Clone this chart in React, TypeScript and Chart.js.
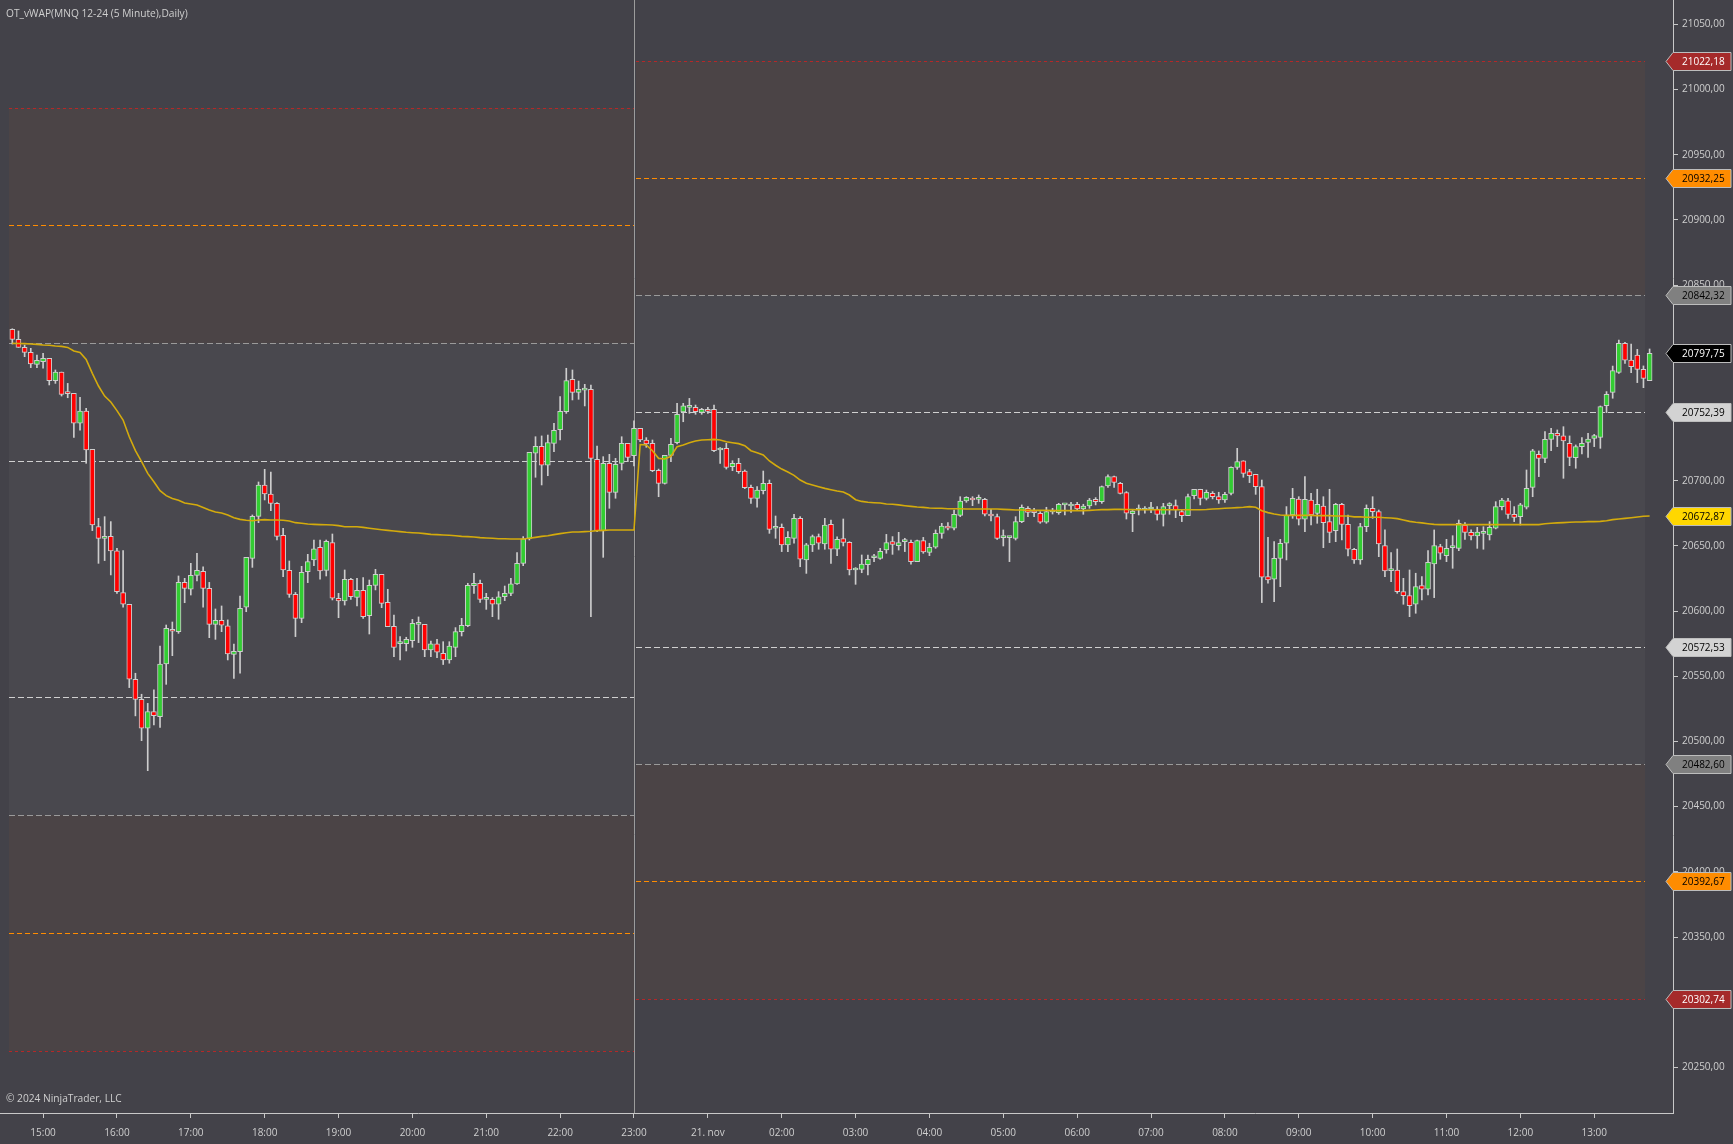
import React, { useEffect, useRef } from 'react';
import { Chart, registerables } from 'chart.js';
Chart.register(...registerables);

const W = 1733;
const H = 1144;

const open = [
20816.0,20808.4,20802.2,20798.4,20789.2,20791.3,20793.8,20776.7,20783.3,20766.9,
20766.9,20744.0,20753.4,20724.0,20664.7,20655.8,20657.3,20646.1,20614.1,20605.2,
20547.7,20532.3,20510.1,20522.9,20519.0,20559.4,20586.0,20584.2,20622.0,20616.7,
20627.4,20630.5,20617.4,20589.8,20592.9,20588.6,20566.8,20568.9,20602.9,20640.4,
20672.6,20696.7,20689.8,20682.6,20658.1,20631.2,20612.8,20594.4,20630.2,20639.2,
20648.9,20631.2,20652.5,20609.8,20607.7,20624.3,20610.5,20615.9,20596.5,20619.7,
20628.2,20606.7,20588.3,20575.0,20575.0,20577.3,20589.8,20589.8,20570.2,20574.8,
20567.6,20562.5,20572.2,20584.2,20588.8,20619.5,20621.3,20609.0,20609.0,20605.2,
20611.0,20613.6,20620.8,20636.6,20655.8,20721.0,20726.3,20711.8,20728.6,20739.1,
20752.9,20777.7,20767.7,20769.5,20770.0,20716.4,20661.4,20713.3,20691.0,20713.3,
20728.6,20719.2,20740.1,20731.2,20728.6,20707.9,20697.9,20719.4,20729.1,20752.7,
20756.2,20756.2,20752.4,20754.7,20754.7,20723.5,20724.8,20710.7,20713.3,20707.4,
20694.9,20686.4,20692.3,20697.9,20663.5,20664.2,20650.7,20655.8,20671.1,20639.2,
20650.7,20657.1,20651.4,20666.5,20647.4,20655.5,20652.7,20631.5,20632.0,20635.6,
20640.9,20640.4,20646.8,20653.2,20650.2,20653.2,20652.7,20637.9,20654.0,20645.0,
20648.9,20659.6,20665.2,20663.5,20673.4,20684.4,20686.4,20685.7,20685.7,20674.2,
20672.4,20656.3,20656.3,20655.8,20668.6,20678.8,20675.5,20675.0,20668.1,20676.0,
20675.5,20681.4,20680.6,20681.9,20678.3,20680.6,20685.7,20683.9,20695.9,20703.1,
20697.9,20690.8,20674.7,20677.5,20677.5,20678.3,20678.3,20674.2,20680.8,20680.8,
20676.2,20673.2,20688.5,20693.4,20686.4,20690.3,20687.7,20685.2,20690.3,20710.2,
20715.3,20706.9,20704.9,20695.4,20626.4,20624.4,20640.4,20652.0,20673.7,20685.9,
20670.4,20685.2,20674.9,20680.6,20668.6,20661.7,20681.9,20666.5,20647.4,20639.2,
20664.7,20678.8,20676.2,20650.2,20631.0,20631.5,20614.9,20611.8,20605.2,20619.5,
20616.7,20636.1,20649.4,20642.5,20648.6,20648.1,20666.0,20660.4,20657.6,20659.6,
20658.4,20663.5,20680.1,20684.6,20674.2,20672.4,20679.6,20694.9,20720.2,20717.1,
20731.7,20736.3,20734.3,20728.6,20717.6,20726.1,20729.4,20732.4,20733.2,20757.5,
20767.7,20783.1,20805.3,20792.5,20796.4,20785.4,20776.7
];

const high = [
20816.5,20814.8,20804.0,20801.5,20796.4,20797.6,20793.8,20784.9,20783.3,20774.6,
20766.9,20763.9,20755.5,20724.0,20671.1,20672.4,20668.6,20648.1,20646.3,20605.2,
20552.3,20536.2,20529.2,20539.5,20573.2,20589.3,20591.6,20626.9,20625.1,20636.6,
20644.3,20634.0,20622.0,20601.6,20603.9,20593.2,20574.7,20611.5,20641.2,20673.7,
20699.0,20708.7,20706.6,20683.1,20663.4,20638.4,20614.3,20634.3,20643.5,20654.5,
20654.5,20654.5,20659.1,20613.6,20631.5,20625.1,20625.1,20625.6,20623.8,20632.0,
20628.2,20616.7,20597.0,20580.4,20579.9,20593.6,20595.5,20589.8,20577.0,20578.3,
20576.5,20576.5,20587.3,20594.4,20621.3,20628.9,20623.8,20613.6,20610.3,20614.9,
20619.2,20625.1,20644.8,20657.1,20721.7,20733.7,20734.3,20735.0,20744.0,20764.4,
20786.2,20784.9,20776.4,20773.9,20773.4,20726.6,20718.4,20720.2,20717.1,20733.7,
20728.6,20745.8,20740.1,20733.0,20731.2,20708.9,20719.4,20732.5,20759.3,20759.3,
20763.1,20758.0,20755.5,20756.2,20758.0,20725.3,20728.6,20715.3,20717.1,20708.2,
20696.7,20695.4,20707.4,20700.5,20672.9,20666.8,20660.9,20674.2,20672.4,20651.9,
20658.3,20659.1,20671.1,20669.8,20657.0,20670.6,20653.2,20633.3,20643.0,20643.0,
20643.5,20648.1,20658.8,20657.1,20660.4,20655.8,20654.5,20654.5,20656.5,20652.0,
20662.2,20667.3,20667.8,20677.5,20687.7,20687.7,20687.7,20689.0,20686.4,20678.0,
20674.4,20662.2,20657.1,20672.4,20681.4,20680.1,20678.8,20676.2,20679.6,20678.8,
20682.6,20682.1,20683.4,20683.4,20681.9,20686.4,20687.0,20695.9,20704.4,20703.6,
20698.7,20691.6,20677.5,20681.4,20680.1,20683.4,20680.1,20682.6,20683.1,20685.2,
20677.5,20689.8,20693.4,20693.4,20692.8,20691.6,20691.1,20691.1,20710.7,20724.8,
20715.3,20708.7,20704.9,20700.5,20656.5,20653.2,20655.0,20680.1,20694.1,20687.7,
20703.1,20690.3,20693.4,20687.7,20693.4,20682.6,20682.6,20673.7,20648.1,20667.3,
20681.4,20687.7,20677.5,20662.2,20644.8,20647.6,20625.1,20631.5,20629.0,20626.4,
20646.3,20662.2,20651.2,20655.0,20657.8,20669.8,20667.8,20662.2,20664.2,20664.7,
20668.6,20683.9,20686.4,20686.4,20680.1,20682.6,20708.2,20724.0,20722.8,20737.6,
20740.1,20738.9,20741.4,20734.3,20727.4,20733.0,20736.3,20735.5,20757.3,20768.3,
20787.9,20807.9,20806.1,20804.8,20800.7,20788.0,20801.0
];

const low = [
20804.8,20802.2,20795.1,20786.7,20786.7,20786.2,20773.4,20774.6,20764.9,20763.6,
20733.2,20738.8,20713.3,20661.7,20636.6,20638.7,20627.7,20613.6,20602.9,20541.3,
20519.6,20500.6,20477.6,20512.6,20510.8,20543.8,20565.8,20582.9,20606.4,20612.3,
20623.1,20602.9,20579.6,20578.3,20584.2,20562.5,20548.4,20552.3,20599.5,20633.5,
20667.8,20685.2,20677.0,20654.5,20626.4,20610.5,20580.4,20591.1,20621.8,20634.8,
20624.4,20626.9,20608.5,20594.9,20604.6,20609.0,20603.9,20594.4,20582.4,20616.2,
20602.6,20588.0,20565.0,20562.5,20569.4,20572.2,20575.8,20565.0,20565.0,20564.3,
20559.0,20560.0,20565.0,20580.9,20588.0,20613.6,20606.7,20601.3,20595.7,20593.7,
20608.0,20611.8,20620.5,20634.8,20654.5,20702.6,20696.7,20703.8,20722.2,20731.2,
20751.6,20761.9,20762.4,20757.3,20595.7,20660.9,20641.2,20678.8,20686.5,20708.2,
20714.6,20711.3,20729.9,20725.6,20706.9,20687.7,20697.4,20714.6,20728.1,20745.2,
20751.6,20750.9,20750.9,20751.6,20722.2,20713.3,20708.9,20707.7,20705.6,20693.9,
20682.6,20679.6,20689.8,20659.6,20655.8,20645.6,20645.6,20652.0,20634.0,20628.9,
20645.6,20647.4,20647.4,20636.6,20642.5,20649.9,20627.7,20620.5,20629.4,20627.7,
20637.9,20639.7,20644.3,20643.5,20646.8,20645.6,20635.9,20637.9,20644.3,20642.5,
20648.1,20655.8,20662.2,20662.2,20672.4,20683.4,20680.8,20682.6,20672.9,20669.1,
20655.0,20649.9,20637.9,20654.5,20667.8,20672.4,20672.4,20667.3,20667.3,20674.4,
20674.2,20673.7,20675.7,20677.0,20674.2,20678.8,20681.4,20682.6,20694.9,20694.9,
20689.8,20670.6,20660.9,20673.7,20675.0,20675.5,20669.8,20665.2,20674.2,20671.6,
20668.6,20673.2,20686.0,20681.4,20685.2,20686.0,20682.6,20683.4,20689.0,20708.7,
20702.6,20698.5,20689.5,20606.5,20621.3,20607.2,20618.7,20639.2,20671.1,20666.0,
20660.9,20666.0,20667.3,20648.6,20652.5,20653.2,20654.5,20642.2,20636.6,20635.9,
20660.9,20671.1,20641.7,20626.4,20622.5,20613.6,20605.2,20595.7,20598.3,20608.5,
20612.3,20610.3,20639.7,20637.9,20632.8,20646.3,20655.0,20654.5,20648.1,20647.4,
20654.5,20663.0,20677.5,20671.1,20668.6,20666.0,20678.3,20687.7,20703.1,20713.8,
20723.0,20726.1,20701.8,20711.5,20709.5,20720.5,20717.9,20726.1,20724.8,20752.2,
20763.2,20782.3,20790.0,20782.8,20775.2,20771.3,20776.7
];

const close = [
20808.4,20802.2,20798.4,20789.5,20792.3,20793.8,20776.7,20783.3,20766.2,20766.7,
20744.0,20753.4,20723.5,20666.0,20655.8,20657.1,20646.1,20614.9,20605.2,20547.7,
20532.3,20510.1,20522.9,20519.8,20559.4,20586.8,20584.5,20622.0,20617.4,20627.4,
20631.2,20617.4,20589.8,20592.9,20589.1,20567.1,20569.1,20602.1,20641.2,20672.6,
20696.7,20689.8,20682.6,20657.3,20631.5,20612.8,20594.4,20629.7,20637.9,20647.8,
20630.7,20653.5,20609.8,20607.7,20624.3,20611.0,20615.9,20595.7,20619.7,20628.2,
20605.9,20588.0,20572.2,20575.2,20578.3,20590.6,20590.0,20570.2,20574.8,20568.4,
20562.5,20573.2,20584.2,20589.1,20619.7,20621.3,20609.0,20609.2,20605.2,20611.0,
20613.6,20620.8,20636.6,20655.3,20721.7,20726.3,20711.8,20729.2,20738.6,20753.2,
20776.7,20767.7,20770.0,20769.6,20717.1,20661.7,20713.3,20691.0,20712.5,20728.6,
20717.9,20740.1,20731.2,20728.1,20707.7,20697.9,20719.4,20727.9,20750.9,20757.3,
20756.3,20752.9,20754.7,20753.2,20723.0,20723.6,20710.2,20713.3,20706.9,20694.6,
20686.4,20692.8,20697.9,20662.7,20663.6,20650.7,20656.5,20671.1,20639.7,20650.7,
20657.1,20652.0,20666.0,20647.4,20655.0,20652.7,20631.5,20631.6,20636.1,20639.7,
20641.0,20645.8,20652.5,20651.2,20652.5,20653.3,20637.9,20654.0,20645.3,20648.9,
20659.6,20665.2,20663.5,20674.2,20684.4,20687.2,20685.2,20685.8,20674.4,20672.9,
20655.8,20656.4,20656.4,20668.6,20679.6,20675.7,20675.4,20668.1,20676.2,20676.1,
20681.9,20681.5,20680.7,20678.3,20680.6,20685.2,20683.9,20695.4,20703.1,20698.7,
20690.3,20675.0,20676.7,20677.6,20677.6,20678.4,20674.2,20680.1,20680.9,20677.5,
20673.2,20687.7,20693.4,20686.4,20691.1,20687.7,20685.2,20689.5,20710.2,20714.6,
20705.6,20703.8,20695.4,20625.9,20623.8,20640.4,20652.0,20673.7,20686.4,20670.4,
20685.7,20673.7,20681.9,20667.8,20660.4,20681.9,20666.5,20647.4,20639.2,20664.7,
20678.8,20676.2,20651.5,20630.7,20631.1,20614.9,20611.8,20604.2,20618.7,20616.7,
20637.4,20650.2,20644.3,20648.1,20648.7,20667.3,20660.4,20657.6,20660.6,20659.7,
20664.2,20680.1,20685.2,20674.2,20671.9,20681.4,20694.1,20722.8,20717.1,20731.7,
20736.3,20734.3,20730.4,20717.9,20726.1,20728.6,20731.9,20734.5,20756.8,20766.2,
20784.4,20805.3,20792.5,20787.4,20785.4,20778.5,20797.75
];

const vwap = [
20805.3,20805.2,20805.1,20804.8,20804.5,20804.0,20803.8,20803.3,20803.0,20802.2,
20799.4,20798.4,20793.0,20782.3,20772.6,20764.9,20760.3,20753.7,20746.5,20733.7,
20723.0,20714.6,20705.6,20699.2,20692.3,20688.5,20686.4,20684.9,20682.9,20682.1,
20681.3,20679.5,20677.5,20676.0,20675.2,20673.7,20671.6,20670.3,20669.6,20669.3,
20669.8,20670.1,20669.8,20669.8,20669.6,20669.1,20667.8,20667.3,20666.8,20666.5,
20666.3,20666.2,20666.0,20665.5,20664.7,20664.7,20664.6,20664.2,20663.5,20662.9,
20662.4,20661.9,20661.4,20660.9,20660.4,20660.1,20659.9,20659.4,20658.8,20658.6,
20658.3,20658.1,20657.8,20657.3,20657.1,20656.8,20656.3,20656.0,20655.8,20655.5,
20655.5,20655.3,20655.3,20655.3,20655.8,20656.5,20657.3,20657.8,20658.6,20659.4,
20660.1,20660.6,20660.6,20660.9,20661.2,20661.7,20661.9,20662.2,20662.2,20662.2,
20662.2,20662.2,20727.7,20727.4,20723.0,20717.1,20716.6,20718.7,20726.1,20727.4,
20729.1,20730.4,20731.2,20731.4,20731.7,20731.2,20729.9,20729.1,20728.4,20726.8,
20723.0,20721.5,20719.7,20715.1,20711.8,20708.9,20706.6,20704.1,20700.5,20698.0,
20696.7,20695.4,20694.1,20693.1,20692.1,20691.3,20689.0,20685.4,20684.1,20683.4,
20683.1,20682.9,20682.1,20681.9,20681.4,20680.8,20680.3,20679.8,20679.5,20679.0,
20678.8,20678.8,20678.5,20678.5,20678.5,20678.3,20678.3,20678.3,20678.3,20678.3,
20678.3,20678.0,20677.8,20677.5,20677.5,20677.2,20677.2,20677.2,20677.2,20677.0,
20677.0,20677.0,20677.0,20677.0,20677.0,20677.2,20677.5,20677.8,20677.8,20678.0,
20678.0,20677.9,20677.8,20677.7,20677.7,20677.7,20677.7,20677.7,20677.7,20677.7,
20677.7,20677.7,20677.7,20677.7,20677.9,20678.3,20678.5,20678.8,20679.0,20679.3,
20679.6,20680.1,20679.6,20677.0,20675.5,20674.4,20673.7,20673.4,20673.4,20673.4,
20673.4,20673.4,20673.2,20673.2,20673.2,20672.9,20672.9,20672.9,20672.2,20672.2,
20671.9,20671.9,20671.9,20671.6,20671.4,20670.9,20669.9,20668.8,20668.1,20667.6,
20667.0,20666.5,20666.3,20666.3,20666.3,20666.3,20666.3,20666.3,20666.3,20666.3,
20666.3,20666.3,20666.3,20666.3,20666.3,20666.3,20666.3,20666.3,20666.3,20667.0,
20667.3,20667.6,20667.8,20668.1,20668.3,20668.3,20668.6,20668.6,20668.8,20669.3,
20670.1,20670.6,20671.1,20671.6,20672.1,20672.7,20672.87
];

const xTickIdx = [5, 17, 29, 41, 53, 65, 77, 89, 101, 113, 125, 137, 149, 161, 173, 185, 197, 209, 221, 233, 245, 257];
const xTickLabels = ['15:00', '16:00', '17:00', '18:00', '19:00', '20:00', '21:00', '22:00', '23:00', '21. nov', '02:00', '03:00', '04:00', '05:00', '06:00', '07:00', '08:00', '09:00', '10:00', '11:00', '12:00', '13:00'];
const yTicks = [20250, 20300, 20350, 20400, 20450, 20500, 20550, 20600, 20650, 20700, 20750, 20800, 20850, 20900, 20950, 21000, 21050];

// bands: +4, +3, +2, +1, -1, -2, -3, -4
const leftLevels = [20986.15, 20895.7, 20805.25, 20714.8, 20533.9, 20443.45, 20353.0, 20262.55];
const rightLevels = [21022.18, 20932.25, 20842.32, 20752.39, 20572.53, 20482.6, 20392.67, 20302.74];
const leftRange = [-0.6, 101];
const rightRange = [101.35, 265.3];
const sessionBreak = 101;
const lastPrice = 20797.75;
const lastVwap = 20672.87;

const BG = '#434249';
const ZONE_OUTER = '#4b4446';
const ZONE_INNER = '#49484e';
const AXIS = '#c8c8c8';
const TXT = '#cfcfcf';
const OUTLINE = '#cdcdcd';
const UP = '#32cd32';
const DOWN = '#ff0000';
const VWAP = '#d4ab0c';
const FONT = "'Open Sans', 'Noto Sans', sans-serif";

const lineStyles = [
  { color: '#b42828', dash: [3, 3], width: 1 },
  { color: '#ff8c00', dash: [5, 3], width: 1 },
  { color: '#9a9a9a', dash: [6, 3], width: 1 },
  { color: '#d0d0d0', dash: [6, 3], width: 1 },
  { color: '#d0d0d0', dash: [6, 3], width: 1 },
  { color: '#9a9a9a', dash: [6, 3], width: 1 },
  { color: '#ff8c00', dash: [5, 3], width: 1 },
  { color: '#b42828', dash: [3, 3], width: 1 },
];
const tagStyles = [
  { fill: '#a52a2a', text: '#ffffff' },
  { fill: '#ff8c00', text: '#000000' },
  { fill: '#808080', text: '#000000' },
  { fill: '#d3d3d3', text: '#000000' },
  { fill: '#d3d3d3', text: '#000000' },
  { fill: '#808080', text: '#000000' },
  { fill: '#ff8c00', text: '#000000' },
  { fill: '#a52a2a', text: '#ffffff' },
];

const fmt = (v: number) => v.toFixed(2).replace('.', ',');

const levelsPlugin = {
  id: 'levels',
  beforeDatasetsDraw(chart: any) {
    const { ctx, chartArea, scales } = chart;
    const x = scales.x;
    const y = scales.y;
    ctx.save();
    ctx.beginPath();
    ctx.rect(chartArea.left, chartArea.top, chartArea.right - chartArea.left, chartArea.bottom - chartArea.top);
    ctx.clip();
    const sessions = [
      { range: leftRange, levels: leftLevels },
      { range: rightRange, levels: rightLevels },
    ];
    sessions.forEach((s) => {
      const x0 = Math.round(x.getPixelForValue(s.range[0]));
      const x1 = Math.round(x.getPixelForValue(s.range[1]));
      const yv = s.levels.map((v) => Math.round(y.getPixelForValue(v)));
      ctx.fillStyle = ZONE_OUTER;
      ctx.fillRect(x0, yv[0], x1 - x0, yv[2] - yv[0]);
      ctx.fillStyle = ZONE_INNER;
      ctx.fillRect(x0, yv[2], x1 - x0, yv[5] - yv[2]);
      ctx.fillStyle = ZONE_OUTER;
      ctx.fillRect(x0, yv[5], x1 - x0, yv[7] - yv[5]);
      yv.forEach((py, k) => {
        const st = lineStyles[k];
        ctx.strokeStyle = st.color;
        ctx.lineWidth = st.width;
        ctx.setLineDash(st.dash);
        ctx.beginPath();
        ctx.moveTo(x0, py + 0.5);
        ctx.lineTo(x1, py + 0.5);
        ctx.stroke();
      });
    });
    ctx.setLineDash([]);
    const sx = Math.round(x.getPixelForValue(sessionBreak)) + 0.5;
    ctx.strokeStyle = '#9c9c9c';
    ctx.lineWidth = 1;
    ctx.beginPath();
    ctx.moveTo(sx, chartArea.top);
    ctx.lineTo(sx, chartArea.bottom);
    ctx.stroke();
    ctx.restore();
  },
};

const overlayPlugin = {
  id: 'overlay',
  afterDraw(chart: any) {
    const { ctx, chartArea, scales } = chart;
    const y = scales.y;
    ctx.save();
    ctx.font = `10.2px ${FONT}`;
    ctx.textBaseline = 'middle';
    ctx.textAlign = 'left';
    ctx.fillStyle = TXT;
    ctx.fillText('OT_vWAP(MNQ 12-24 (5 Minute),Daily)', chartArea.left + 6, chartArea.top + 14);
    ctx.fillText('\u00A9 2024 NinjaTrader, LLC', chartArea.left + 6, chartArea.bottom - 14);

    const tags: { v: number; fill: string; text: string }[] = rightLevels.map((v, k) => ({ v, fill: tagStyles[k].fill, text: tagStyles[k].text }));
    tags.push({ v: lastVwap, fill: '#ffd700', text: '#000000' });
    tags.push({ v: lastPrice, fill: '#000000', text: '#ffffff' });
    const r = chartArea.right;
    tags.forEach((t) => {
      const c = Math.round(y.getPixelForValue(t.v)) + 0.5;
      ctx.beginPath();
      ctx.moveTo(r - 7, c);
      ctx.lineTo(r, c - 9);
      ctx.lineTo(r + 58, c - 9);
      ctx.lineTo(r + 58, c + 9);
      ctx.lineTo(r, c + 9);
      ctx.closePath();
      ctx.fillStyle = t.fill;
      ctx.fill();
      ctx.strokeStyle = '#bdbdbd';
      ctx.lineWidth = 1;
      ctx.stroke();
      ctx.fillStyle = t.text;
      ctx.font = `10px ${FONT}`;
      ctx.fillText(fmt(t.v), r + 9, c + 0.5);
    });
    ctx.restore();
  },
};

export default function App() {
  const ref = useRef<HTMLCanvasElement | null>(null);
  useEffect(() => {
    document.body.style.margin = '0';
    document.body.style.background = BG;
    const canvas = ref.current;
    if (!canvas) return;
    const idx = close.map((_, i) => i);
    const bodies = idx.map((i) => ({ x: i, y: [open[i], close[i]] }));
    const wicks = idx.map((i) => ({ x: i, y: [low[i], high[i]] }));
    const bodyColors = idx.map((i) => (close[i] >= open[i] ? UP : DOWN));
    const vw = vwap.map((v, i) => ({ x: i, y: v }));

    const chart = new Chart(canvas, {
      type: 'bar',
      data: {
        datasets: [
          {
            type: 'line',
            data: vw,
            borderColor: VWAP,
            borderWidth: 1.6,
            pointRadius: 0,
            tension: 0,
            order: 0,
          } as any,
          {
            type: 'bar',
            data: bodies,
            backgroundColor: bodyColors,
            borderColor: OUTLINE,
            borderWidth: 1,
            borderSkipped: false,
            barThickness: 5,
            grouped: false,
            minBarLength: 2,
            order: 1,
          } as any,
          {
            type: 'bar',
            data: wicks,
            backgroundColor: OUTLINE,
            borderWidth: 0,
            barThickness: 1,
            grouped: false,
            order: 2,
          } as any,
        ],
      },
      options: {
        responsive: false,
        maintainAspectRatio: false,
        animation: false,
        events: [],
        layout: { padding: 0 },
        plugins: { legend: { display: false }, tooltip: { enabled: false }, title: { display: false } },
        scales: {
          x: {
            type: 'linear',
            min: -2.0,
            max: 269.8,
            offset: false,
            bounds: 'data',
            afterBuildTicks: (s: any) => {
              s.ticks = xTickIdx.map((v) => ({ value: v }));
            },
            afterFit: (s: any) => {
              s.height = 31;
              s.paddingLeft = 0;
              s.paddingRight = 0;
              s.paddingTop = 0;
              s.paddingBottom = 0;
            },
            ticks: {
              autoSkip: false,
              maxRotation: 0,
              minRotation: 0,
              color: TXT,
              padding: 9,
              font: { family: FONT, size: 10 },
              callback: (_v: any, i: number) => xTickLabels[i],
            },
            grid: { display: true, offset: false, drawOnChartArea: false, drawTicks: true, tickLength: 5, color: AXIS },
            border: { display: true, color: AXIS, width: 1 },
          },
          y: {
            type: 'linear',
            position: 'right',
            min: 20215.04,
            max: 21068.64,
            bounds: 'data',
            beginAtZero: false,
            afterBuildTicks: (s: any) => {
              s.ticks = yTicks.map((v) => ({ value: v }));
            },
            afterFit: (s: any) => {
              s.width = 60;
              s.paddingLeft = 0;
              s.paddingRight = 0;
              s.paddingTop = 0;
              s.paddingBottom = 0;
            },
            ticks: {
              color: TXT,
              padding: 4,
              font: { family: FONT, size: 10 },
              callback: (v: any) => fmt(Number(v)),
            },
            grid: { display: true, drawOnChartArea: false, drawTicks: true, tickLength: 5, color: AXIS },
            border: { display: true, color: AXIS, width: 1 },
          },
        },
      } as any,
      plugins: [levelsPlugin, overlayPlugin],
    });
    return () => chart.destroy();
  }, []);

  return (
    <div style={{ width: W, height: H, background: BG, overflow: 'hidden' }}>
      <canvas ref={ref} width={W} height={H} style={{ display: 'block', width: W, height: H }} />
    </div>
  );
}
